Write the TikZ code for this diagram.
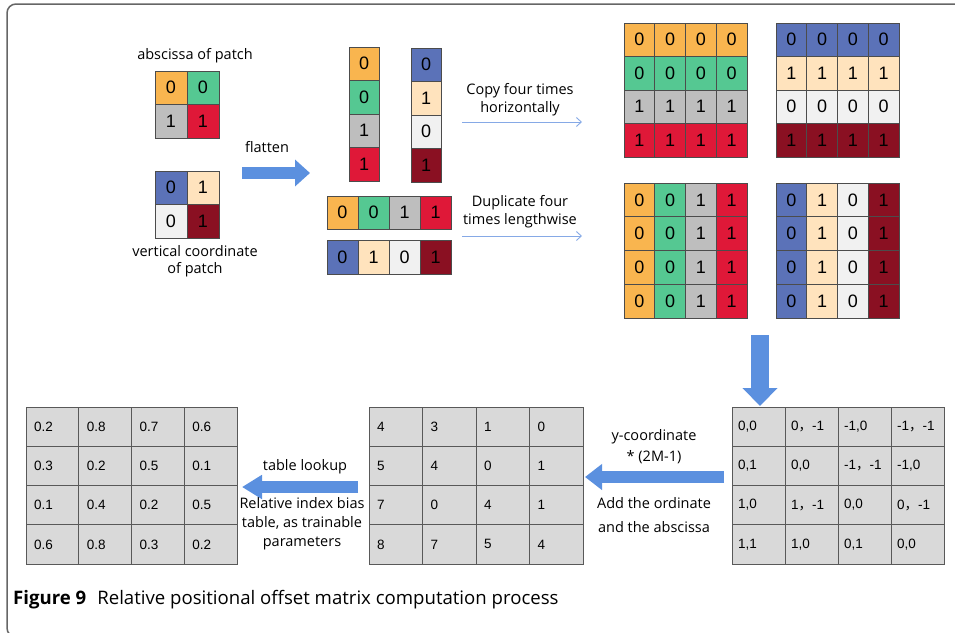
\documentclass[tikz,border=0pt]{standalone}
\usepackage{fontspec}
\setmainfont{Open Sans}
\newfontfamily\arialf{Liberation Sans}
\newfontfamily\cjk{Noto Sans CJK SC}
\usetikzlibrary{arrows.meta}
\definecolor{cOr}{HTML}{F9B54F}
\definecolor{cGr}{HTML}{55C892}
\definecolor{cGy}{HTML}{BEBEBE}
\definecolor{cRd}{HTML}{DF1838}
\definecolor{cBl}{HTML}{5B72B8}
\definecolor{cBg}{HTML}{FFE3BD}
\definecolor{cLt}{HTML}{F1F1F1}
\definecolor{cDr}{HTML}{8A1022}
\definecolor{tblf}{HTML}{D9D9D9}
\definecolor{abl}{HTML}{5B90DF}
\definecolor{tbl2}{HTML}{86A9E6}
\newcommand{\tc}[4]{\node[tcell, inner xsep=6pt, text width=41pt, font=\arialf\fontsize{13.5}{15}\selectfont] (#1) at (#2,#3) {#4};}
\begin{document}
\begin{tikzpicture}[x=1pt,y=-1pt,
  cell/.style n args={2}{draw=black!70, line width=0.8pt, minimum width=#1, minimum height=#2, inner sep=0pt, font=\arialf\fontsize{18}{18}\selectfont},
  tcell/.style={draw=black!65, fill=tblf, line width=0.8pt, minimum height=39.25, inner ysep=0pt, inner xsep=8pt, text width=37pt, align=left, font=\arialf\fontsize{13.5}{14}\selectfont},
  lbl/.style={inner sep=0pt, align=center, font=\fontsize{14.5}{18}\selectfont},
  thinarrow/.style={draw=tbl2, line width=0.9pt, -{Straight Barb[length=5pt,width=9pt]}},
  blk/.style n args={3}{draw=abl, line width=#1, -{Triangle[width=#2,length=#3]}}
]
\useasboundingbox (0,0) rectangle (955,632);
% frame
\draw[black!60, line width=1.5pt, rounded corners=9pt] (970,4) -- (7,4) -- (7,637) -- (970,637);

% patch grids
\node[lbl] (absl) at (195,56) {abscissa of patch};
\node[cell={32}{33.5}, fill=cOr] (p11) at (171,87.75) {0};
\node[cell={32}{33.5}, fill=cGr] (p12) at (203,87.75) {0};
\node[cell={32}{33.5}, fill=cGy] (p13) at (171,121.25) {1};
\node[cell={32}{33.5}, fill=cRd] (p14) at (203,121.25) {1};
\node[cell={32}{33.5}, fill=cBl] (p21) at (171,187.75) {0};
\node[cell={32}{33.5}, fill=cBg] (p22) at (203,187.75) {1};
\node[cell={32}{33.5}, fill=cLt] (p23) at (171,221.25) {0};
\node[cell={32}{33.5}, fill=cDr] (p24) at (203,221.25) {1};
\node[lbl, font=\fontsize{14.5}{17}\selectfont] (verl) at (195,261) {vertical coordinate\\of patch};

% flatten
\node[lbl] (flat) at (267,147) {flatten};
\coordinate (flA) at (242,173);
\coordinate (flB) at (310,173);
\draw[blk={12pt}{26pt}{15pt}] (flA) -- (flB);

% flattened columns
\foreach \c/\v [count=\i from 0] in {cOr/0,cGr/0,cGy/1,cRd/1}{
  \node[cell={30}{33.5}, fill=\c] (ca\i) at (364,63.75+33.5*\i) {\v};
}
\foreach \c/\v [count=\i from 0] in {cBl/0,cBg/1,cLt/0,cDr/1}{
  \node[cell={30}{33.5}, fill=\c] (cb\i) at (426,64.75+33.5*\i) {\v};
}
% flattened rows
\foreach \c/\v [count=\i from 0] in {cOr/0,cGr/0,cGy/1,cRd/1}{
  \node[cell={31}{33}, fill=\c] (ra\i) at (342.5+31*\i,212.5) {\v};
}
\foreach \c/\v [count=\i from 0] in {cBl/0,cBg/1,cLt/0,cDr/1}{
  \node[cell={31}{34}, fill=\c] (rb\i) at (342.5+31*\i,257) {\v};
}

% thin arrows
\node[lbl] (copyl) at (520,100) {Copy four times\\horizontally};
\coordinate (cpA) at (462,122);
\coordinate (cpB) at (582,122);
\draw[thinarrow] (cpA) -- (cpB);
\node[lbl] (dupl) at (520,212) {Duplicate four\\times lengthwise};
\coordinate (dpA) at (462,236);
\coordinate (dpB) at (582,236);
\draw[thinarrow] (dpA) -- (dpB);

% copied matrices
\foreach \c/\v [count=\i from 0] in {cOr/0,cGr/0,cGy/1,cRd/1}{
  \foreach \j in {0,1,2,3}{
    \node[cell={30.75}{33.5}, fill=\c] (ma\i\j) at (639.4+30.75*\j,39.75+33.5*\i) {\v};
  }
}
\foreach \c/\v [count=\i from 0] in {cBl/0,cBg/1,cLt/0,cDr/1}{
  \foreach \j in {0,1,2,3}{
    \node[cell={30.75}{33.5}, fill=\c] (mb\i\j) at (791.4+30.75*\j,39.75+33.5*\i) {\v};
  }
}
\foreach \c/\v [count=\j from 0] in {cOr/0,cGr/0,cGy/1,cRd/1}{
  \foreach \i in {0,1,2,3}{
    \node[cell={30.75}{33.75}, fill=\c] (mc\i\j) at (639.4+30.75*\j,199.9+33.75*\i) {\v};
  }
}
\foreach \c/\v [count=\j from 0] in {cBl/0,cBg/1,cLt/0,cDr/1}{
  \foreach \i in {0,1,2,3}{
    \node[cell={30.75}{33.75}, fill=\c] (md\i\j) at (791.4+30.75*\j,199.9+33.75*\i) {\v};
  }
}

% down arrow
\coordinate (dnA) at (760,335);
\coordinate (dnB) at (760,406);
\draw[blk={18pt}{34pt}{18pt}] (dnA) -- (dnB);

% right table
\tc{r00}{758.5}{426.6}{0,0}
\tc{r01}{811.5}{426.6}{0{\cjk ，}-1}
\tc{r02}{864.5}{426.6}{-1,0}
\tc{r03}{917.5}{426.6}{-1{\cjk ，}-1}
\tc{r10}{758.5}{465.9}{0,1}
\tc{r11}{811.5}{465.9}{0,0}
\tc{r12}{864.5}{465.9}{-1{\cjk ，}-1}
\tc{r13}{917.5}{465.9}{-1,0}
\tc{r20}{758.5}{505.1}{1,0}
\tc{r21}{811.5}{505.1}{1{\cjk ，}-1}
\tc{r22}{864.5}{505.1}{0,0}
\tc{r23}{917.5}{505.1}{0{\cjk ，}-1}
\tc{r30}{758.5}{544.4}{1,1}
\tc{r31}{811.5}{544.4}{1,0}
\tc{r32}{864.5}{544.4}{0,1}
\tc{r33}{917.5}{544.4}{0,0}

% arrow right -> middle
\node[lbl, font=\fontsize{14.5}{21}\selectfont] (ycl) at (654,447) {y-coordinate\\* (2M-1)};
\node[lbl, font=\fontsize{14.5}{24}\selectfont] (addl) at (654,515) {Add the ordinate\\and the abscissa};
\coordinate (a2A) at (724,477);
\coordinate (a2B) at (585,477);
\draw[blk={12pt}{25pt}{17pt}] (a2A) -- (a2B);

% middle table
\foreach \row [count=\i from 0] in {{4,3,1,0},{5,4,0,1},{7,0,4,1},{8,7,5,4}}{
  \foreach \v [count=\j from 0] in \row {
    \node[tcell, text width=37.5pt] (m\i\j) at (395.75+53.5*\j,426.6+39.25*\i) {\v};
  }
}

% arrow middle -> left
\node[lbl] (tll) at (305,467) {table lookup};
\node[lbl, font=\fontsize{14.5}{19}\selectfont] (rib) at (302,524) {Relative index bias\\table, as trainable\\parameters};
\coordinate (a3A) at (358,487);
\coordinate (a3B) at (242,487);
\draw[blk={12pt}{23pt}{20pt}] (a3A) -- (a3B);

% left table
\foreach \row [count=\i from 0] in {{0.2,0.8,0.7,0.6},{0.3,0.2,0.5,0.1},{0.1,0.4,0.2,0.5},{0.6,0.8,0.3,0.2}}{
  \foreach \v [count=\j from 0] in \row {
    \node[tcell, text width=36.75pt] (l\i\j) at (52.4+52.75*\j,426.6+39.25*\i) {\v};
  }
}

% caption
\node[anchor=west, inner sep=0pt, font=\fontsize{18.6}{20}\selectfont] (cap) at (13,600) {\textbf{Figure 9}\hspace{11pt}Relative positional offset matrix computation process};
\end{tikzpicture}
\end{document}
